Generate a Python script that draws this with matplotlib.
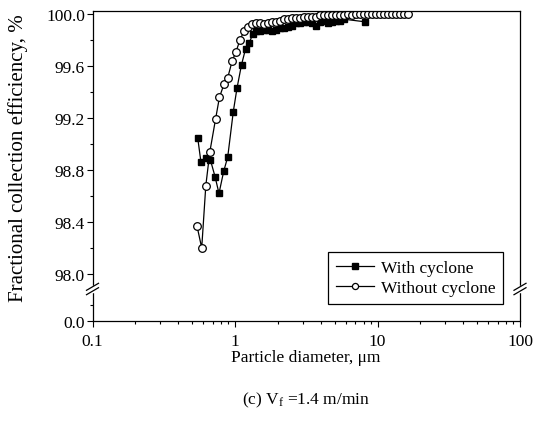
import matplotlib
matplotlib.use("Agg")
from matplotlib import pyplot as plt
from matplotlib.lines import Line2D
from matplotlib.ticker import LogLocator, NullFormatter, FixedLocator

plt.rcParams['font.family'] = ['Liberation Serif', 'DejaVu Serif']
plt.rcParams['mathtext.fontset'] = 'custom'
plt.rcParams['mathtext.rm'] = 'Liberation Serif'
plt.rcParams['mathtext.it'] = 'Liberation Serif:italic'

# particle diameter (um) / fractional efficiency (%)
d_with = [0.547, 0.577, 0.623, 0.671, 0.724, 0.772, 0.833, 0.889, 0.973, 1.033,
          1.111, 1.185, 1.260, 1.338, 1.415, 1.497, 1.597, 1.704, 1.818, 1.940,
          2.069, 2.207, 2.355, 2.512, 2.680, 2.858, 3.050, 3.253, 3.471, 3.702,
          3.950, 4.214, 4.494, 4.795, 5.115, 5.456, 5.821, 8.17]
eff_with = [99.05, 98.86, 98.89, 98.88, 98.75, 98.62, 98.79, 98.90, 99.25, 99.43,
            99.61, 99.73, 99.78, 99.85, 99.87, 99.87, 99.88, 99.88, 99.87, 99.88,
            99.89, 99.89, 99.90, 99.91, 99.93, 99.93, 99.94, 99.94, 99.93, 99.91,
            99.94, 99.95, 99.93, 99.94, 99.95, 99.95, 99.96, 99.94]

d_without = [0.541, 0.584, 0.624, 0.666, 0.730, 0.778, 0.837, 0.889, 0.956, 1.016,
             1.084, 1.157, 1.234, 1.316, 1.404, 1.497, 1.597, 1.704, 1.818, 1.940,
             2.069, 2.207, 2.355, 2.512, 2.680, 2.858, 3.050, 3.253, 3.471, 3.702,
             3.950, 4.214, 4.494, 4.795, 5.115, 5.456, 5.821, 6.210, 6.624, 7.066,
             7.539, 8.043, 8.579, 9.152, 9.762, 10.41, 11.11, 11.85, 12.64, 13.48,
             14.38, 15.35, 16.37]
eff_without = [98.37, 98.20, 98.68, 98.94, 99.19, 99.36, 99.46, 99.51, 99.64, 99.71,
               99.80, 99.87, 99.90, 99.92, 99.93, 99.93, 99.92, 99.93, 99.94, 99.94,
               99.95, 99.96, 99.96, 99.97, 99.97, 99.97, 99.98, 99.98, 99.98, 99.98,
               99.99, 99.99, 99.99, 99.99, 99.99, 99.99, 99.99, 100.0, 99.99, 100.0,
               100.0, 100.0, 100.0, 100.0, 100.0, 100.0, 100.0, 100.0, 100.0, 100.0,
               100.0, 100.0, 100.0]

yticks_top = [98.0, 98.4, 98.8, 99.2, 99.6, 100.0]

W, H = 536, 431
fig = plt.figure(figsize=(W / 100, H / 100), dpi=100)

left, right = 92.5 / W, 520 / W
y_top, y_brk, y_bot = 12, 290, 322
ax = fig.add_axes([left, 1 - y_brk / H, right - left, (y_brk - y_top) / H])
ax2 = fig.add_axes([left, 1 - y_bot / H, right - left, (y_bot - y_brk) / H], sharex=ax)

for a in (ax, ax2):
    a.plot(d_with, eff_with, '-s', color='black', lw=0.9, ms=5,
           mfc='black', mec='black', label='With cyclone')
    a.plot(d_without, eff_without, '-o', color='black', lw=0.9, ms=5.5,
           mfc='white', mec='black', mew=0.9, label='Without cyclone')
    a.set_xscale('log')
    a.tick_params(which='both', direction='out', labelsize=12.5, width=0.8,
                  top=False, right=False)
    a.tick_params(which='major', length=4)
    a.tick_params(which='minor', length=2.5)
    a.tick_params(axis='y', pad=1.5)
    for s in a.spines.values():
        s.set_linewidth(0.9)

ax.set_xlim(0.1, 100)
ax.set_ylim(98.0 - 15 / 130, 100 + 3 / 130)
ax.set_yticks(yticks_top)
ax.set_yticklabels([f'{v:.1f}' for v in yticks_top])
ax.yaxis.set_minor_locator(FixedLocator([98.2, 98.6, 99.0, 99.4, 99.8]))
ax.spines['bottom'].set_visible(False)
ax.tick_params(axis='x', which='both', bottom=False, labelbottom=False)

ax2.set_ylim(0, 0.2)
ax2.set_yticks([0.0])
ax2.set_yticklabels(['0.0'])
ax2.yaxis.set_minor_locator(FixedLocator([0.1]))
ax2.spines['top'].set_visible(False)
ax2.xaxis.set_minor_locator(LogLocator(base=10, subs=range(2, 10)))
ax2.xaxis.set_minor_formatter(NullFormatter())
ax2.set_xticks([0.1, 1, 10, 100])
ax2.set_xticklabels(['0.1', '1', '10', '100'])
ax2.tick_params(axis='x', pad=5)

# axis break marks on both side spines
def px(x, y):
    return x / W, 1 - y / H

for xs in (92.5, 520):
    fig.add_artist(Line2D(*zip(px(xs, y_brk - 2), px(xs, y_brk + 2)),
                          color='white', lw=2.5))
    for dy in (-2.2, 2.2):
        p0 = px(xs - 6, y_brk + dy + 3.5)
        p1 = px(xs + 6, y_brk + dy - 3.5)
        fig.add_artist(Line2D([p0[0], p1[0]], [p0[1], p1[1]],
                              color='black', lw=0.9))

fig.text(18 / W, 1 - 158 / H, 'Fractional collection efficiency, %',
         rotation=90, ha='center', va='center', fontsize=15)
fig.text(306 / W, 1 - 358 / H, 'Particle diameter, μm',
         ha='center', va='center', fontsize=12.5)
fig.text(306 / W, 1 - 400 / H, r'(c) V$_\mathrm{f}$ =1.4 m/min',
         ha='center', va='center', fontsize=12.5)

handles, labels = ax.get_legend_handles_labels()
leg = fig.legend(handles, labels, loc='lower right',
                 bbox_to_anchor=(503 / W, 1 - 305 / H), borderaxespad=0,
                 fontsize=12.5, frameon=True, fancybox=False, framealpha=1,
                 edgecolor='black', handlelength=2.2, handletextpad=0.35,
                 borderpad=0.45, labelspacing=0.25, markerscale=0.8)
leg.get_frame().set_linewidth(0.9)

fig.savefig('out.png', dpi=100)
